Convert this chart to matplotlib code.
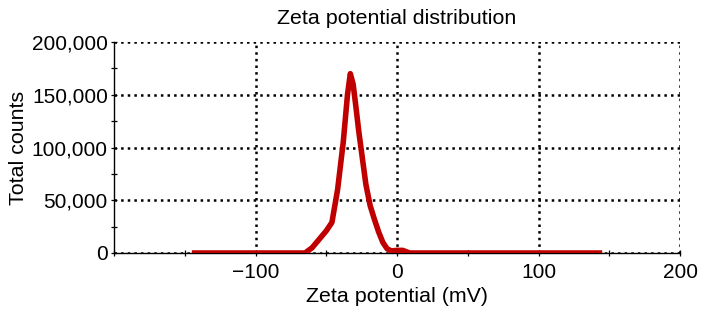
import matplotlib

matplotlib.use("Agg")
import matplotlib.pyplot as plt
from matplotlib.ticker import FuncFormatter, MultipleLocator

# zeta potential (mV) vs total counts
zeta_mv = [-145, -65, -60, -55, -50, -46, -42, -38, -35, -33, -31, -29, -27,
           -25, -22, -19, -16, -13, -10, -7, -4, 0, 4, 6, 9, 145]
total_counts = [0, 0, 5000, 13000, 21000, 29000, 60000, 105000, 150000, 170000,
                160000, 138000, 115000, 95000, 65000, 45000, 32000, 20000, 10000,
                4000, 2000, 2500, 2500, 1500, 0, 0]

x_ticks = [-100, 0, 100, 200]
y_ticks = [0, 50000, 100000, 150000, 200000]

plt.rcParams["font.family"] = ["Liberation Sans", "DejaVu Sans"]

fig = plt.figure(figsize=(7.02, 3.19), dpi=100)
ax = fig.add_axes([0.1624, 0.2069, 0.8063, 0.6614])

ax.plot(zeta_mv, total_counts, color="#c00000", linewidth=4.0,
        solid_capstyle="butt", solid_joinstyle="round", zorder=3)

ax.set_xlim(-200, 200)
ax.set_ylim(0, 200000)
ax.set_xticks(x_ticks)
ax.set_yticks(y_ticks)
ax.xaxis.set_minor_locator(MultipleLocator(50))
ax.yaxis.set_minor_locator(MultipleLocator(25000))
ax.yaxis.set_major_formatter(FuncFormatter(lambda v, _: f"{int(v):,}"))

ax.grid(True, which="major", color="black", linestyle=":", linewidth=1.8)
for side in ("top", "right"):
    ax.spines[side].set_visible(False)
for side in ("left", "bottom"):
    ax.spines[side].set_linewidth(1.0)

ax.tick_params(which="both", direction="inout", length=5, width=0.9,
               labelsize=15, colors="black")
ax.tick_params(axis="x", pad=5)
ax.tick_params(axis="y", pad=2)

ax.set_title("Zeta potential distribution", fontsize=15.4, pad=13)
ax.set_xlabel("Zeta potential (mV)", fontsize=15.4, labelpad=3)
ax.set_ylabel("Total counts", fontsize=15.4, labelpad=3)

fig.savefig("out.png", dpi=100)
plt.close(fig)
